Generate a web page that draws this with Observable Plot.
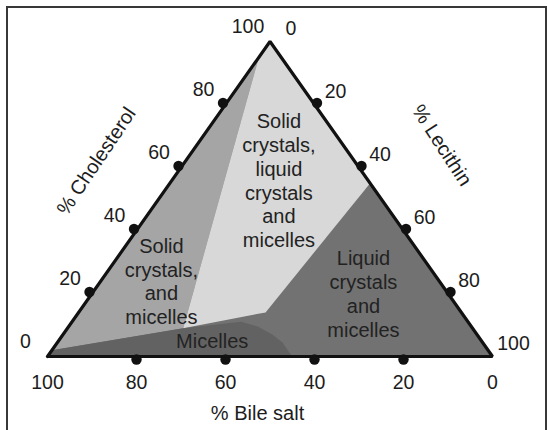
<!DOCTYPE html>
<html><head><meta charset="utf-8">
<script src="https://cdn.jsdelivr.net/npm/d3@7"></script>
<script src="https://cdn.jsdelivr.net/npm/@observablehq/plot@0.6"></script>
<style>
html,body{margin:0;padding:0;background:#fff;overflow:hidden;width:548px;height:430px}
#chart{position:absolute;left:0;top:0}
#frame{position:absolute;left:6px;top:6px;width:541px;height:470px;border:2px solid #383838;box-sizing:border-box;pointer-events:none}
</style></head><body>
<div id="chart"></div><div id="frame"></div>
<script>
// Ternary points are [bile salt %, cholesterol %, lecithin %]
const tickValues = [0, 20, 40, 60, 80, 100];
const tickDots = [20, 40, 60, 80];
const outline = [[100, 0, 0], [0, 0, 100], [0, 100, 0]];
const solidCrystalsRegion = [[5, 95, 0], [98, 2, 0], [65, 9, 26]];
const threePhaseRegion = [[0, 100, 0], [5, 95, 0], [65, 9, 26], [44, 14, 42], [0, 55, 45]];
const micellesRegion = [[100, 0, 0], [98, 2, 0], [65, 9, 26], [51, 11, 38], [48, 9.5, 42.5], [46, 7, 47], [45, 4.5, 50.5], [45, 2, 53], [45, 0, 55]];
const regionNames = ["Solid\ncrystals,\nliquid\ncrystals\nand\nmicelles", "Solid\ncrystals,\nand\nmicelles", "Liquid\ncrystals\nand\nmicelles", "Micelles"];
const regionNamePoints = [[20, 56, 24], [62.4, 24, 13.6], [19, 20, 61], [60.5, 5, 34.5]];
const axisTitles = ["% Bile salt", "% Cholesterol", "% Lecithin"];

const toXY = ([b, c, l]) => ({x: l + c / 2, y: c});
const closed = pts => [...pts, pts[0]].map(toXY);

const bottomPt = v => toXY([v, 0, 100 - v]);
const leftPt = v => toXY([100 - v, v, 0]);
const rightPt = v => toXY([0, 100 - v, v]);

const font = "'Liberation Sans', Arial, Helvetica, sans-serif";
const txt = "#1c1c1c";

const labelData = regionNames.map((t, i) => ({...toXY(regionNamePoints[i]), t}));

const chart = Plot.plot({
  width: 548, height: 430,
  marginLeft: 47, marginRight: 56, marginTop: 41, marginBottom: 74,
  x: {domain: [0, 100], axis: null},
  y: {domain: [0, 100], axis: null},
  style: {fontFamily: font, background: "transparent", overflow: "visible"},
  marks: [
    Plot.line(closed(outline), {x: "x", y: "y", fill: "#727272", stroke: "none"}),
    Plot.line(closed(solidCrystalsRegion), {x: "x", y: "y", fill: "#a5a5a5", stroke: "none"}),
    Plot.line(closed(threePhaseRegion), {x: "x", y: "y", fill: "#d8d8d8", stroke: "none"}),
    Plot.line(closed(micellesRegion), {x: "x", y: "y", fill: "#626262", stroke: "none"}),
    Plot.line(closed(outline), {x: "x", y: "y", stroke: "#111", strokeWidth: 3.2, strokeLinejoin: "miter"}),
    Plot.dot(tickDots.map(bottomPt), {x: "x", y: "y", r: 5.2, fill: "#111", dy: 3}),
    Plot.dot(tickDots.map(leftPt), {x: "x", y: "y", r: 5.2, fill: "#111", dx: -2.5, dy: -1.5}),
    Plot.dot(tickDots.map(rightPt), {x: "x", y: "y", r: 5.2, fill: "#111", dx: 2.5, dy: -1.5}),
    Plot.text(tickValues.map(v => ({...bottomPt(v), v})), {x: "x", y: "y", text: "v", dy: 26, fontSize: 19.5, fill: txt}),
    Plot.text(tickValues.map(v => ({...leftPt(v), v})), {x: "x", y: "y", text: "v", dx: -22, dy: -15, fontSize: 19.5, fill: txt}),
    Plot.text(tickValues.map(v => ({...rightPt(v), v})), {x: "x", y: "y", text: "v", dx: 21, dy: -13, fontSize: 19.5, fill: txt}),
    Plot.text(labelData, {x: "x", y: "y", text: "t", fontSize: 20, lineHeight: 1.19, fill: "#222"}),
    Plot.text([axisTitles[0]], {x: 47.2, y: -18, text: d => d, fontSize: 20, fill: txt}),
    Plot.text([axisTitles[1]], {x: 11, y: 62, text: d => d, fontSize: 20, fill: txt, rotate: -56}),
    Plot.text([axisTitles[2]], {x: 88.6, y: 67, text: d => d, fontSize: 20, fill: txt, rotate: 57})
  ]
});
document.getElementById("chart").appendChild(chart);
</script>
</body></html>
